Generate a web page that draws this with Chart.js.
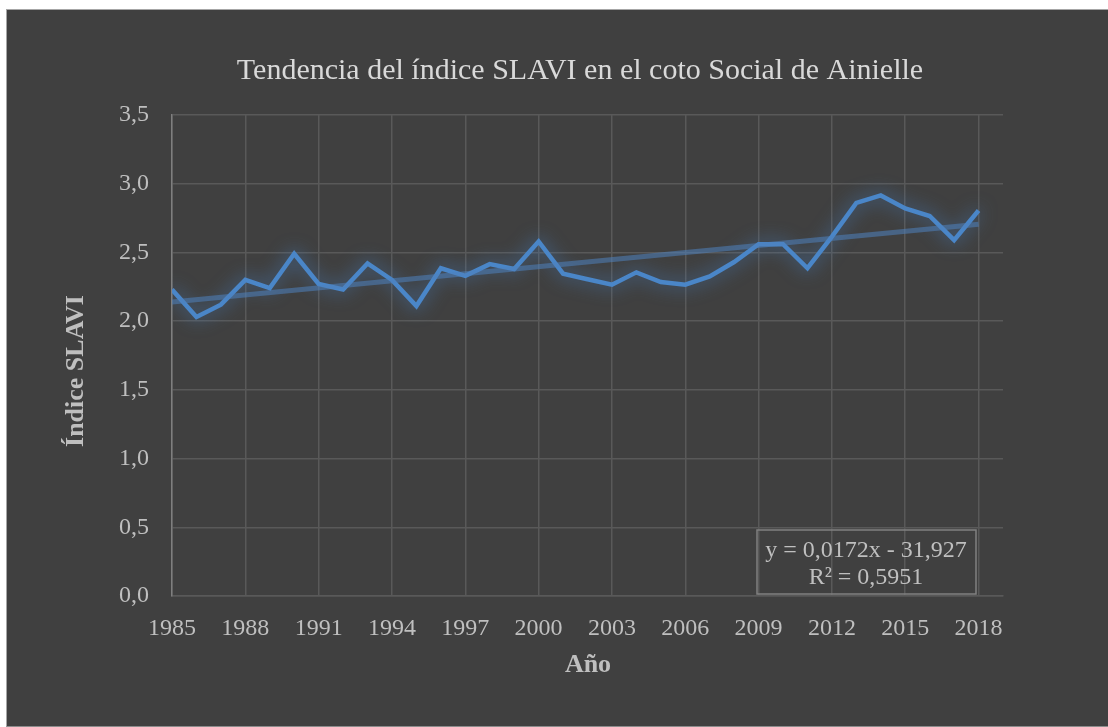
<!DOCTYPE html>
<html>
<head>
<meta charset="utf-8">
<script src="https://cdn.jsdelivr.net/npm/chart.js@4/dist/chart.umd.min.js"></script>
<style>
  body { margin: 0; background: #ffffff; }
  #frame { position: absolute; left: 6px; top: 9px; width: 1101px; height: 716px;
           background: #404040; border-top: 1px solid #a6a6a6; border-left: 1px solid #a6a6a6;
           border-bottom: 1px solid #8c8c8c; }
  #chart { position: absolute; left: 0; top: 0; }
</style>
</head>
<body>
<div id="frame"></div>
<canvas id="chart" width="1108" height="727"></canvas>
<script>
// valores
const years = [1985, 1986, 1987, 1988, 1989, 1990, 1991, 1992, 1993, 1994, 1995, 1996,
               1997, 1998, 1999, 2000, 2001, 2002, 2003, 2004, 2005, 2006, 2007, 2008,
               2009, 2010, 2011, 2012, 2013, 2014, 2015, 2016, 2017, 2018];
const slavi = [2.23, 2.03, 2.12, 2.30, 2.24, 2.49, 2.27, 2.23, 2.42, 2.30, 2.11, 2.385,
               2.33, 2.415, 2.38, 2.58, 2.345, 2.305, 2.265, 2.355, 2.285, 2.265, 2.325, 2.43,
               2.56, 2.56, 2.385, 2.615, 2.86, 2.915, 2.82, 2.765, 2.59, 2.805];
// extremos de la línea de tendencia
const trendYears = [1985, 2018];
const trendValues = [2.14, 2.705];
const equationLines = ['y = 0,0172x - 31,927', 'R² = 0,5951'];

const chartTitle = 'Tendencia del índice SLAVI en el coto Social de Ainielle';
const xTitle = 'Año';
const yTitle = 'Índice SLAVI';

const SERIF = '"Liberation Serif", "Times New Roman", serif';

// brillo azul alrededor de la serie (efecto "glow" de Excel)
const glowPlugin = {
    id: 'glow',
    beforeDatasetDraw(chart, args) {
        if (args.index !== 0) return;
        const ctx = chart.ctx;
        ctx.save();
        ctx.shadowColor = 'rgba(70, 130, 200, 0.85)';
        ctx.shadowBlur = 18;
    },
    afterDatasetDraw(chart, args) {
        if (args.index !== 0) return;
        chart.ctx.restore();
    }
};

// títulos y cuadro de la ecuación
const textPlugin = {
    id: 'texts',
    afterDraw(chart) {
        const ctx = chart.ctx;
        ctx.save();
        ctx.fillStyle = '#d9d9d9';
        ctx.textAlign = 'center';
        ctx.textBaseline = 'alphabetic';
        ctx.font = '30px ' + SERIF;
        ctx.fillText(chartTitle, 580, 79);

        ctx.fillStyle = '#bfbfbf';
        ctx.font = 'bold 26px ' + SERIF;
        ctx.fillText(xTitle, 588, 672);

        ctx.save();
        ctx.translate(83, 371);
        ctx.rotate(-Math.PI / 2);
        ctx.fillText(yTitle, 0, 0);
        ctx.restore();

        ctx.strokeStyle = '#808080';
        ctx.lineWidth = 1.5;
        ctx.strokeRect(757, 530, 219, 64);
        ctx.fillStyle = '#bfbfbf';
        ctx.font = '24px ' + SERIF;
        ctx.fillText(equationLines[0], 866, 557);
        ctx.fillText(equationLines[1], 866, 584);
        ctx.restore();
    }
};

new Chart(document.getElementById('chart'), {
    type: 'line',
    data: {
        datasets: [
            {
                label: 'SLAVI',
                data: years.map((y, i) => ({ x: y, y: slavi[i] })),
                borderColor: '#4a86c8',
                borderWidth: 4.5,
                pointRadius: 0,
                tension: 0,
                order: 1
            },
            {
                label: 'Tendencia',
                data: trendYears.map((y, i) => ({ x: y, y: trendValues[i] })),
                borderColor: 'rgba(79, 129, 189, 0.55)',
                borderWidth: 5,
                pointRadius: 0,
                order: 0
            }
        ]
    },
    options: {
        responsive: false,
        animation: false,
        layout: { padding: { left: 0, right: 105, top: 115, bottom: 0 } },
        plugins: {
            legend: { display: false },
            tooltip: { enabled: false }
        },
        scales: {
            x: {
                type: 'linear',
                min: 1985,
                max: 2019,
                afterBuildTicks: (scale) => {
                    const t = [];
                    for (let v = 1985; v <= 2018; v += 3) t.push({ value: v });
                    scale.ticks = t;
                },
                afterFit: (scale) => { scale.height = 727 - 596; },
                grid: { color: '#595959', lineWidth: 1.5, drawTicks: false },
                border: { color: '#595959', width: 1.5 },
                ticks: {
                    color: '#bfbfbf',
                    font: { family: SERIF, size: 24 },
                    padding: 18,
                    maxRotation: 0,
                    autoSkip: false,
                    callback: (v) => String(v)
                }
            },
            y: {
                min: 0,
                max: 3.5,
                afterFit: (scale) => { scale.width = 172; },
                grid: { color: '#595959', lineWidth: 1.5, drawTicks: false },
                border: { color: '#7f7f7f', width: 1.5 },
                ticks: {
                    stepSize: 0.5,
                    color: '#bfbfbf',
                    font: { family: SERIF, size: 24 },
                    padding: 23,
                    callback: (v) => v.toFixed(1).replace('.', ',')
                }
            }
        }
    },
    plugins: [glowPlugin, textPlugin]
});
</script>
</body>
</html>
